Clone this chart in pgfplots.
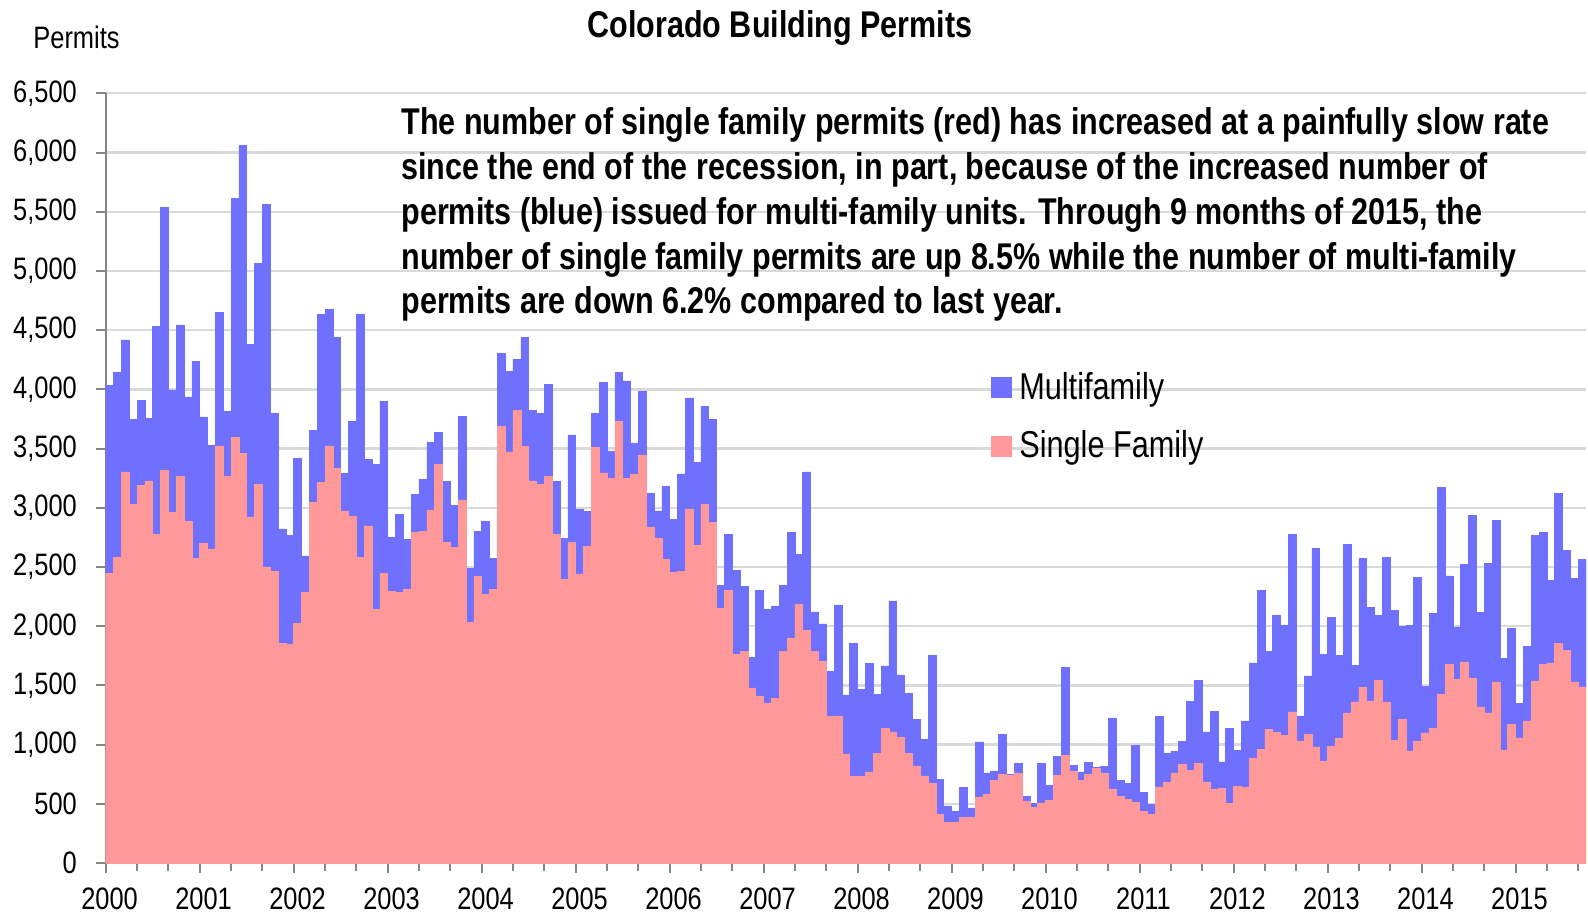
\documentclass[border=0pt]{standalone}
\usepackage{pgfplots}
\pgfplotsset{compat=1.18}
\usepackage{pgfplotstable}
\usepackage{fontspec}
\setmainfont{Liberation Sans}[FakeStretch=0.82]
\definecolor{mfblue}{RGB}{112,112,255}
\definecolor{sfpink}{RGB}{255,153,153}
\definecolor{gridgray}{RGB}{217,217,217}
\definecolor{axisgray}{RGB}{134,134,134}
\pgfplotsset{layers/mylayers/.define layer set={axis background,axis grid,main,axis ticks,axis lines,axis tick labels,axis descriptions,axis foreground}{}}

\pgfplotstableread{
m sf mf
0 2445 1591
1 2585 1559
2 3303 1114
3 3026 717
4 3190 714
5 3226 530
6 2774 1755
7 3315 2224
8 2958 1038
9 3263 1282
10 2882 1054
11 2573 1663
12 2701 1067
13 2653 874
14 3523 1130
15 3267 549
16 3595 2020
17 3459 2601
18 2922 1455
19 3198 1868
20 2501 3058
21 2461 1339
22 1852 970
23 1848 921
24 2024 1391
25 2285 308
26 3046 609
27 3214 1419
28 3523 1150
29 3335 1102
30 2974 313
31 2926 805
32 2581 2056
33 2846 561
34 2140 1223
35 2449 1451
36 2293 460
37 2285 657
38 2309 424
39 2794 316
40 2802 440
41 2982 573
42 3363 272
43 2709 513
44 2665 357
45 3066 705
46 2032 453
47 2421 381
48 2265 617
49 2313 260
50 3687 618
51 3471 681
52 3824 432
53 3519 918
54 3226 598
55 3194 602
56 3263 777
57 2774 448
58 2393 348
59 2709 906
60 2441 545
61 2673 293
62 3507 293
63 3295 765
64 3246 233
65 3731 413
66 3250 822
67 3279 268
68 3439 541
69 2834 284
70 2745 229
71 2565 617
72 2453 449
73 2465 821
74 2990 938
75 2681 702
76 3030 826
77 2878 870
78 2152 193
79 2305 469
80 1764 709
81 1784 549
82 1479 260
83 1411 890
84 1351 793
85 1391 781
86 1784 561
87 1900 890
88 2184 421
89 1964 1339
90 1784 336
91 1703 317
92 1238 381
93 1242 938
94 922 497
95 729 1123
96 732 736
97 769 916
98 924 499
99 1135 530
100 1107 1107
101 1059 530
102 924 507
103 820 394
104 735 307
105 670 1082
106 408 296
107 346 136
108 341 96
109 383 254
110 383 82
111 558 465
112 577 184
113 699 78
114 749 336
115 741 8
116 761 78
117 524 39
118 468 33
119 507 332
120 530 126
121 741 160
122 910 741
123 777 48
124 699 70
125 749 99
126 797 9
127 755 62
128 620 605
129 563 136
130 535 135
131 515 479
132 437 157
133 408 88
134 642 597
135 679 245
136 761 183
137 834 194
138 783 583
139 839 705
140 685 422
141 623 659
142 628 226
143 501 634
144 648 304
145 642 558
146 882 808
147 961 1343
148 1130 659
149 1101 992
150 1079 930
151 1276 1502
152 1031 211
153 1087 493
154 980 1674
155 862 899
156 989 1084
157 1056 696
158 1268 1422
159 1361 309
160 1482 1087
161 1369 792
162 1544 546
163 1361 1222
164 1037 1098
165 1211 789
166 947 1062
167 1028 1381
168 1099 394
169 1135 972
170 1425 1747
171 1679 746
172 1549 445
173 1699 825
174 1563 1375
175 1318 798
176 1268 1262
177 1530 1360
178 952 775
179 1172 806
180 1056 291
181 1200 631
182 1538 1231
183 1676 1118
184 1690 699
185 1854 1267
186 1797 845
187 1530 873
188 1487 1079
}\permits

\begin{document}
\begin{tikzpicture}
\begin{axis}[
  name=ax, set layers=mylayers,
  scale only axis, width=740.15pt, height=384.85pt,
  at={(0pt,0pt)}, anchor=south west,
  xmin=0, xmax=189, ymin=0, ymax=6500,
  enlargelimits=false,
  axis x line*=bottom, axis y line*=left,
  axis line style={axisgray, line width=1pt},
  ybar stacked, bar width=1,
  xtick={0,12,24,36,48,60,72,84,96,108,120,132,144,156,168,180},
  xticklabels={2000,2001,2002,2003,2004,2005,2006,2007,2008,2009,2010,2011,2012,2013,2014,2015},
  minor xtick={4,8,16,20,28,32,40,44,52,56,64,68,76,80,88,92,100,104,112,116,124,128,136,140,148,152,160,164,172,176,184,188},
  ytick={0,500,...,6500},
  scaled y ticks=false,
  tick align=outside, major tick length=5pt, minor tick length=4.2pt,
  every tick/.style={axisgray, line width=1pt},
  minor tick style={axisgray, line width=1pt},
  ymajorgrids, major grid style={gridgray, line width=1.2pt},
  /pgf/number format/assume math mode=true,
  /pgf/number format/1000 sep={,},
  tick label style={font=\fontsize{15.5}{18}\selectfont, inner sep=0pt},
  yticklabel style={anchor=east, xshift=-9.25pt},
  xticklabel style={anchor=base, xshift=1.96pt, yshift=-18pt},
  legend image code/.code={\fill[#1, draw=none] (0pt,0.4pt) rectangle (10.6pt,10.8pt);},
  reverse legend,
  legend style={at={(0.598,0.638)}, anchor=north west, draw=none, fill=none,
    inner sep=0pt, outer sep=0pt, row sep=14.3pt, column sep=3.6pt,
    font=\fontsize{18.7}{22}\selectfont,
    nodes={inner sep=0pt, anchor=base west}},
]
\addplot[fill=sfpink, draw=sfpink, line width=0.3pt] table[x expr=\thisrow{m}+0.5, y=sf]{\permits};
\addlegendentry{Single Family}
\addplot[fill=mfblue, draw=mfblue, line width=0.3pt] table[x expr=\thisrow{m}+0.5, y=mf]{\permits};
\addlegendentry{Multifamily}
\end{axis}
\node[anchor=base, font=\fontsize{18.6}{22}\selectfont\bfseries] at (337.15pt,412.75pt) {Colorado Building Permits};
\node[anchor=base, font=\fontsize{15.5}{18}\selectfont] at (-14.6pt,407.2pt) {Permits};
\begin{scope}[every node/.style={anchor=base west, inner sep=0pt, font=\fontsize{18.6}{22}\selectfont\bfseries}]
\node at (147.7pt,364.15pt) {The number of single family permits (red) has increased at a painfully slow rate};
\node at (147.7pt,341.75pt) {since the end of the recession, in part, because of the increased number of};
\node at (147.7pt,319.35pt) {permits (blue) issued for multi-family units. Through 9 months of 2015, the};
\node at (147.7pt,296.95pt) {number of single family permits are up 8.5\% while the number of multi-family};
\node at (147.7pt,274.55pt) {permits are down 6.2\% compared to last year.};
\end{scope}
\pgfresetboundingbox
\path (-52.85pt,-26.5pt) rectangle (741.15pt,431.5pt);
\end{tikzpicture}
\end{document}
